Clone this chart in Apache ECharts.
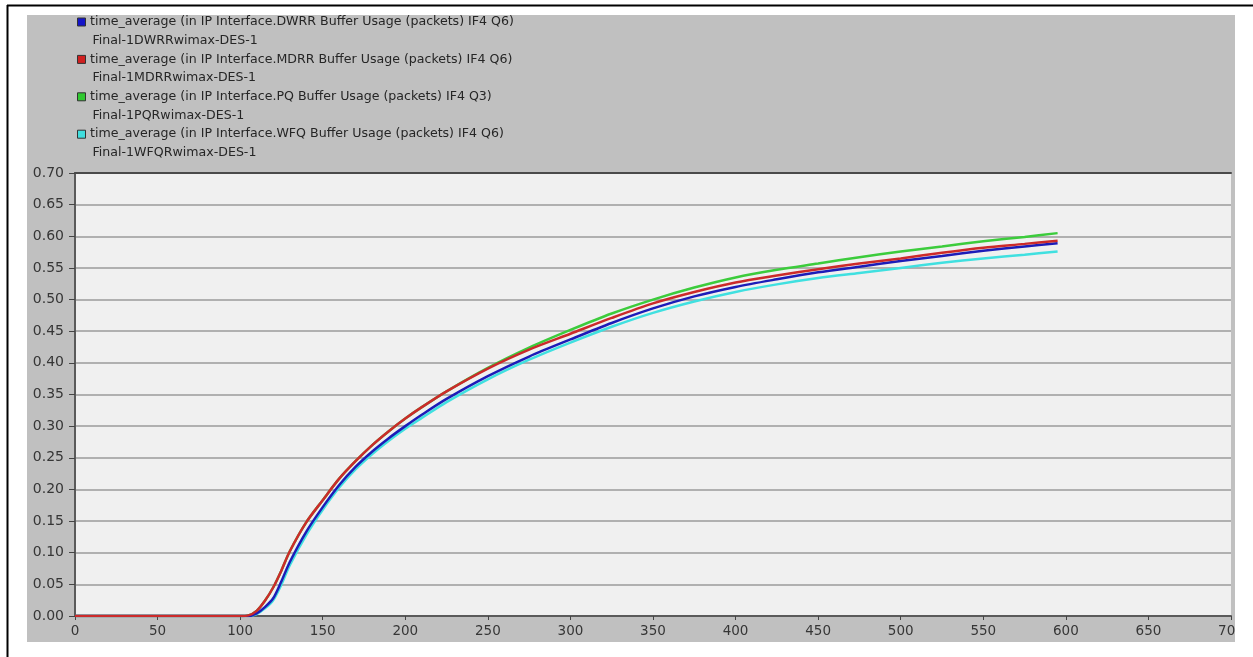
<!DOCTYPE html>
<html>
<head>
<meta charset="utf-8">
<script src="https://cdn.jsdelivr.net/npm/echarts@6/dist/echarts.min.js"></script>
<style>
html,body{margin:0;padding:0;background:#fff;}
#chart{width:1253px;height:657px;}
</style>
</head>
<body>
<div id="chart"></div>
<script>
// ---- data ----
var xValues = [0,50,100,105,110,115,120,125,130,140,150,160,170,180,190,200,210,225,250,275,300,325,350,375,400,425,450,475,500,525,550,575,595];
var dwrr = [0,0,0,0,0.004,0.014,0.028,0.055,0.085,0.133,0.172,0.207,0.236,0.260,0.281,0.300,0.318,0.343,0.379,0.410,0.437,0.463,0.486,0.505,0.520,0.532,0.543,0.552,0.561,0.569,0.577,0.584,0.589];
var mdrr = [0,0,0,0.001,0.008,0.024,0.045,0.072,0.102,0.148,0.183,0.217,0.245,0.270,0.292,0.312,0.330,0.355,0.391,0.421,0.446,0.471,0.494,0.512,0.527,0.538,0.548,0.557,0.565,0.574,0.582,0.588,0.593];
var pq   = [0,0,0,0.001,0.008,0.024,0.045,0.072,0.102,0.148,0.183,0.217,0.245,0.270,0.292,0.312,0.330,0.355,0.392,0.424,0.452,0.478,0.500,0.519,0.535,0.547,0.557,0.567,0.576,0.584,0.592,0.599,0.605];
var wfq  = [0,0,0,0,0.003,0.012,0.025,0.050,0.080,0.128,0.168,0.203,0.232,0.256,0.277,0.296,0.313,0.338,0.374,0.405,0.432,0.457,0.479,0.497,0.512,0.524,0.534,0.542,0.550,0.558,0.565,0.571,0.576];

var seriesNames = [
  'time_average (in IP Interface.DWRR Buffer Usage (packets) IF4 Q6)',
  'time_average (in IP Interface.MDRR Buffer Usage (packets) IF4 Q6)',
  'time_average (in IP Interface.PQ Buffer Usage (packets) IF4 Q3)',
  'time_average (in IP Interface.WFQ Buffer Usage (packets) IF4 Q6)'
];
var seriesSubNames = [
  'Final-1DWRRwimax-DES-1',
  'Final-1MDRRwimax-DES-1',
  'Final-1PQRwimax-DES-1',
  'Final-1WFQRwimax-DES-1'
];
var seriesValues = [dwrr, mdrr, pq, wfq];
var lineColors = ['#1c1cb8', '#cc2a2a', '#3ccc3c', '#40e0e0'];
var legendColors = ['#1515c8', '#d02020', '#30c830', '#40dede'];
var seriesZ = [4, 5, 3, 2];

var xTickLabels = [0,50,100,150,200,250,300,350,400,450,500,550,600,650,700];
var yTickLabels = ['0.00','0.05','0.10','0.15','0.20','0.25','0.30','0.35','0.40','0.45','0.50','0.55','0.60','0.65','0.70'];

// ---- build ----
var font = 'DejaVu Sans';
var chart = echarts.init(document.getElementById('chart'), null, {renderer: 'canvas'});

var series = seriesValues.map(function (vals, i) {
  return {
    name: seriesNames[i],
    type: 'line',
    data: xValues.map(function (x, j) { return [x, vals[j]]; }),
    showSymbol: false,
    smooth: 0.3,
    z: seriesZ[i],
    lineStyle: {color: lineColors[i], width: 2.5},
    itemStyle: {color: lineColors[i]},
    animation: false
  };
});

var graphics = [
  {type: 'rect', z: -5, shape: {x: 27, y: 15, width: 1208, height: 627}, style: {fill: '#c0c0c0'}},
  {type: 'line', z: 50, shape: {x1: 7, y1: 5.5, x2: 1253, y2: 5.5}, style: {stroke: '#000', lineWidth: 2}},
  {type: 'line', z: 50, shape: {x1: 7.5, y1: 5, x2: 7.5, y2: 657}, style: {stroke: '#000', lineWidth: 2}},
  {type: 'rect', z: 40, shape: {x: 1235, y: 12, width: 20, height: 650}, style: {fill: '#ffffff'}}
];
var lineGap = 18.7;
seriesNames.forEach(function (name, i) {
  var y0 = 22 + i * 2 * lineGap;
  graphics.push({type: 'rect', z: 10, shape: {x: 77.5, y: y0 - 4, width: 8, height: 8},
    style: {fill: legendColors[i], stroke: '#333', lineWidth: 1}});
  graphics.push({type: 'text', z: 10, x: 90, y: y0,
    style: {text: name, fill: '#262626', font: '12.6px "' + font + '"', textVerticalAlign: 'middle', verticalAlign: 'middle'}});
  graphics.push({type: 'text', z: 10, x: 92.5, y: y0 + lineGap,
    style: {text: seriesSubNames[i], fill: '#262626', font: '12.6px "' + font + '"', textVerticalAlign: 'middle', verticalAlign: 'middle'}});
});

var option = {
  backgroundColor: '#ffffff',
  animation: false,
  grid: {left: 75, right: 22, top: 173, bottom: 41, show: true, backgroundColor: '#f0f0f0', borderWidth: 0},
  xAxis: [{
    type: 'value', min: 0, max: 700, interval: 50,
    axisLine: {show: true, lineStyle: {color: '#5a5a5a', width: 2}},
    axisTick: {show: true, inside: false, length: 4, lineStyle: {color: '#444'}},
    axisLabel: {show: true, margin: 8, color: '#363636', fontFamily: font, fontSize: 13.5,
      formatter: function (v) { return xTickLabels.indexOf(v) >= 0 ? String(v) : ''; }},
    splitLine: {show: false}
  }, {
    type: 'value', position: 'top', min: 0, max: 700,
    axisLine: {show: true, lineStyle: {color: '#4a4a4a', width: 2}},
    axisTick: {show: false}, axisLabel: {show: false}, splitLine: {show: false}
  }],
  yAxis: {
    type: 'value', min: 0, max: 0.7, interval: 0.05,
    axisLine: {show: true, lineStyle: {color: '#5a5a5a', width: 2}},
    axisTick: {show: true, inside: false, length: 6, lineStyle: {color: '#444'}},
    axisLabel: {margin: 11, color: '#363636', fontFamily: font, fontSize: 14,
      formatter: function (v) { var i = Math.round(v / 0.05); return yTickLabels[i] || ''; }},
    splitLine: {show: true, lineStyle: {color: '#b0b0b0', width: 2}}
  },
  graphic: graphics,
  series: series
};
chart.setOption(option);
</script>
</body>
</html>
